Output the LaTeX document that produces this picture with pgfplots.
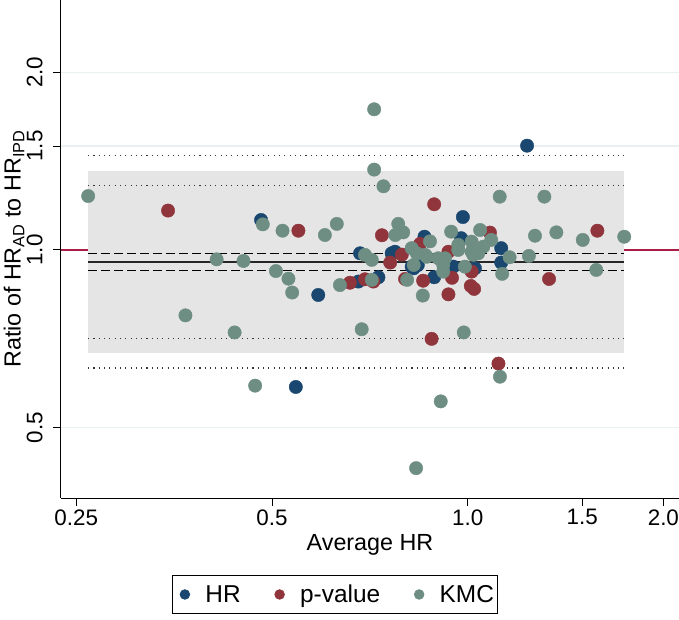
\documentclass[border=0pt]{standalone}
\usepackage{fontspec}
\setmainfont{Liberation Sans}
\usepackage{pgfplots}
\usepackage{pgfplotstable}
\pgfplotsset{compat=1.18}
\definecolor{cHR}{RGB}{26,71,111}
\definecolor{cPV}{RGB}{144,53,59}
\definecolor{cKM}{RGB}{110,142,132}
\definecolor{cRef}{RGB}{170,30,70}
\definecolor{cShade}{RGB}{229,229,229}
\definecolor{cGrid}{RGB}{232,240,242}
\newcommand\fs{\fontsize{22.5}{27}\selectfont}
\newcommand\fl{\fontsize{23.4}{28}\selectfont}
\newcommand\fg{\fontsize{24.5}{29}\selectfont}

\pgfplotstableread{
x y
0.481 1.124
0.589 0.839
0.544 0.586
1.234 1.502
0.983 1.137
0.858 1.053
0.977 1.047
1.126 1.007
1.126 0.952
0.888 0.899
0.826 0.931
0.838 0.943
0.729 0.899
0.679 0.884
0.683 0.987
0.764 0.987
0.773 0.993
0.820 0.937
0.950 0.937
1.026 0.931
}\hrdata

\pgfplotstableread{
x y
0.346 1.166
0.549 1.078
0.888 1.195
0.738 1.059
1.082 1.070
1.583 1.078
1.334 0.893
0.880 0.707
1.115 0.642
1.023 0.859
1.011 0.869
0.934 0.841
0.854 0.887
0.946 0.897
0.801 0.893
0.760 0.952
0.716 0.884
0.659 0.880
0.695 0.892
0.792 0.982
0.934 0.993
1.014 0.919
0.845 1.024
}\pvdata

\pgfplotstableread{
x y
0.2607 1.234
0.484 1.105
0.519 1.078
0.603 1.060
0.629 1.107
0.411 0.964
0.452 0.958
0.507 0.921
0.530 0.894
0.537 0.847
0.368 0.775
0.438 0.725
0.471 0.589
0.718 1.731
0.718 1.368
0.742 1.282
1.120 1.231
1.312 1.231
0.782 1.107
0.774 1.060
0.796 1.071
0.875 1.034
0.943 1.074
1.045 1.081
1.087 1.040
1.269 1.057
1.369 1.071
1.503 1.040
1.741 1.053
1.577 0.925
0.687 0.734
0.986 0.725
1.121 0.610
0.909 0.554
0.833 0.427
1.242 0.977
1.160 0.972
1.130 0.911
0.853 0.837
0.807 0.890
0.826 0.943
0.712 0.890
0.636 0.872
0.695 0.981
0.712 0.962
0.820 1.007
0.835 0.987
0.865 0.974
0.901 0.968
0.917 0.943
0.917 0.919
0.967 1.000
0.990 0.937
1.014 0.993
1.057 1.013
1.038 0.987
0.967 1.020
1.014 1.033
1.020 0.981
0.860 0.981
0.923 0.968
}\kmdata

\begin{document}
\begin{tikzpicture}
\begin{axis}[
  at={(61bp,122bp)}, anchor=south west,
  scale only axis, width=618bp, height=498bp,
  xmode=log, ymode=log, log basis x=2, log basis y=2,
  xmin=0.2368, xmax=2.1137, ymin=0.3801, ymax=2.651,
  axis x line=bottom, axis y line=left,
  axis line style={-, line width=1bp, black},
  xtick={0.25,0.5,1,1.5,2}, xticklabels={0.25,0.5,1.0,1.5,2.0},
  ytick={0.5,1,1.5,2}, yticklabels={0.5,1.0,1.5,2.0},
  minor xtick={}, minor ytick={},
  tick align=outside, major tick length=8bp,
  tick style={black, line width=1bp},
  ymajorgrids, grid style={cGrid, line width=1.2bp},
  tick label style={font=\fs, /pgf/number format/assume math mode=true},
  yticklabel style={rotate=90, anchor=south, yshift=7bp},
  xlabel={Average HR},
  ylabel={Ratio of HR\textsubscript{AD} to HR\textsubscript{IPD}},
  label style={font=\fl},
  xlabel style={at={(axis description cs:0.5,0)}, anchor=center, yshift=-47bp},
  ylabel style={at={(axis description cs:0,0.5)}, anchor=center, yshift=47bp},
  legend style={at={(axis description cs:0.444,-0.1546)}, anchor=north,
    legend columns=3, draw=black, line width=0.8bp, font=\fg,
    inner xsep=2bp, inner ysep=7.5bp,
    /tikz/every even column/.append style={column sep=27bp}},
  legend image code/.code={\path[draw=none,fill=none] (-10bp,-4.8bp) rectangle (18.5bp,4.8bp);
    \draw[mark repeat=2,mark phase=2,#1] plot coordinates {(-10bp,0bp) (0bp,0bp) (13bp,0bp)};},
  legend image post style={mark size=4.8bp},
]
\addplot[cRef, line width=1.3bp, forget plot] coordinates {(0.2368,1) (2.1137,1)};
\addplot[fill=cShade, draw=none, forget plot] coordinates {(0.2607,0.669) (1.740,0.669) (1.740,1.3626) (0.2607,1.3626)} -- cycle;
\addplot[black!80, line width=1.1bp, dash pattern=on 1.1bp off 4.2bp, forget plot] coordinates {(0.2607,1.4446) (1.740,1.4446)};
\addplot[black!80, line width=1.1bp, dash pattern=on 1.1bp off 4.2bp, forget plot] coordinates {(0.2607,1.287) (1.740,1.287)};
\addplot[black!80, line width=1.1bp, dash pattern=on 1.1bp off 4.2bp, forget plot] coordinates {(0.2607,0.7074) (1.740,0.7074)};
\addplot[black!80, line width=1.1bp, dash pattern=on 1.1bp off 4.2bp, forget plot] coordinates {(0.2607,0.631) (1.740,0.631)};
\addplot[black, line width=1.2bp, dash pattern=on 9bp off 4bp, forget plot] coordinates {(0.2607,0.987) (1.740,0.987)};
\addplot[black!85, line width=1.2bp, forget plot] coordinates {(0.2607,0.9543) (1.740,0.9543)};
\addplot[black, line width=1.2bp, dash pattern=on 9bp off 4bp, forget plot] coordinates {(0.2607,0.9224) (1.740,0.9224)};
\addplot[only marks, mark=*, mark size=6.7bp, color=cHR, mark options={draw=none, fill=cHR}] table[x=x,y=y] {\hrdata};
\addlegendentry{HR}
\addplot[only marks, mark=*, mark size=6.7bp, color=cPV, mark options={draw=none, fill=cPV}] table[x=x,y=y] {\pvdata};
\addlegendentry{p-value}
\addplot[only marks, mark=*, mark size=6.7bp, color=cKM, mark options={draw=none, fill=cKM}] table[x=x,y=y] {\kmdata};
\addlegendentry{KMC}
\end{axis}
\pgfresetboundingbox
\path[use as bounding box] (0,0) rectangle (679bp,620bp);
\end{tikzpicture}
\end{document}
